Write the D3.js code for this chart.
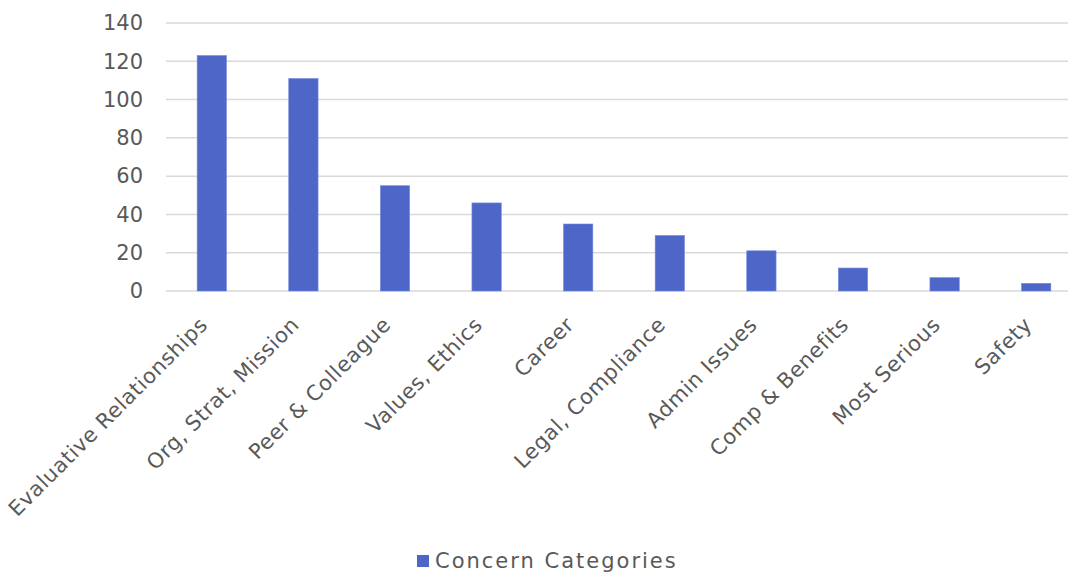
<!DOCTYPE html>
<html>
<head>
<meta charset="utf-8">
<script src="https://cdn.jsdelivr.net/npm/d3@7"></script>
<style>
  body { margin: 0; background: #fff; }
  svg { display: block; font-family: "DejaVu Sans", sans-serif; }
</style>
</head>
<body>
<svg id="chart" width="1068" height="573"></svg>
<script>
// chart data
const categories = ["Evaluative Relationships", "Org, Strat, Mission", "Peer & Colleague",
  "Values, Ethics", "Career", "Legal, Compliance", "Admin Issues", "Comp & Benefits",
  "Most Serious", "Safety"];
const counts = [123, 111, 55, 46, 35, 29, 21, 12, 7, 4];
const yTicks = [0, 20, 40, 60, 80, 100, 120, 140];
const seriesName = "Concern Categories";

const svg = d3.select("#chart");
const margin = { top: 23, left: 166, bottom: 282 };
const plotRight = 1082;
const plotBottom = 573 - margin.bottom;

const x = d3.scaleBand()
  .domain(categories)
  .range([margin.left, plotRight])
  .paddingInner(0.68)
  .paddingOuter(0.34);
const y = d3.scaleLinear().domain([0, 140]).range([plotBottom, margin.top]);

// gridlines
svg.append("g")
  .selectAll("line")
  .data(yTicks)
  .enter()
  .append("line")
  .attr("x1", margin.left)
  .attr("x2", plotRight)
  .attr("y1", d => y(d))
  .attr("y2", d => y(d))
  .attr("stroke", "#d9d9d9")
  .attr("stroke-width", 1.5);

// y axis labels
const yAxis = svg.append("g")
  .attr("transform", "translate(" + (margin.left - 23) + ",0)")
  .call(d3.axisLeft(y).tickValues(yTicks).tickSize(0).tickPadding(0));
yAxis.select(".domain").remove();
yAxis.selectAll("text")
  .attr("fill", "#595959")
  .style("font-size", "21px")
  .style("font-family", "DejaVu Sans, sans-serif");

// bars
svg.selectAll(".bar")
  .data(counts)
  .enter()
  .append("rect")
  .attr("class", "bar")
  .attr("x", (d, i) => x(categories[i]))
  .attr("width", x.bandwidth())
  .attr("y", d => y(d))
  .attr("height", d => plotBottom - y(d))
  .attr("fill", "#4e66c8")
  .attr("stroke", "#7489da")
  .attr("stroke-width", 0.6);

// x axis labels
const xAxis = svg.append("g")
  .attr("transform", "translate(0," + plotBottom + ")")
  .call(d3.axisBottom(x).tickSize(0).tickPadding(0));
xAxis.select(".domain").remove();
xAxis.selectAll("text")
  .attr("fill", "#595959")
  .style("font-size", "21px")
  .style("letter-spacing", "0.6px")
  .style("font-family", "DejaVu Sans, sans-serif")
  .attr("text-anchor", "end")
  .attr("dy", null)
  .attr("y", 0)
  .attr("transform", "translate(-3,35) rotate(-45)");

// legend
const legend = svg.append("g").attr("transform", "translate(417,555)");
legend.append("rect")
  .attr("width", 12)
  .attr("height", 12)
  .attr("fill", "#4e66c8");
legend.append("text")
  .attr("x", 18)
  .attr("y", 13)
  .attr("fill", "#595959")
  .style("font-size", "21px")
  .style("letter-spacing", "2px")
  .text(seriesName);
</script>
</body>
</html>
